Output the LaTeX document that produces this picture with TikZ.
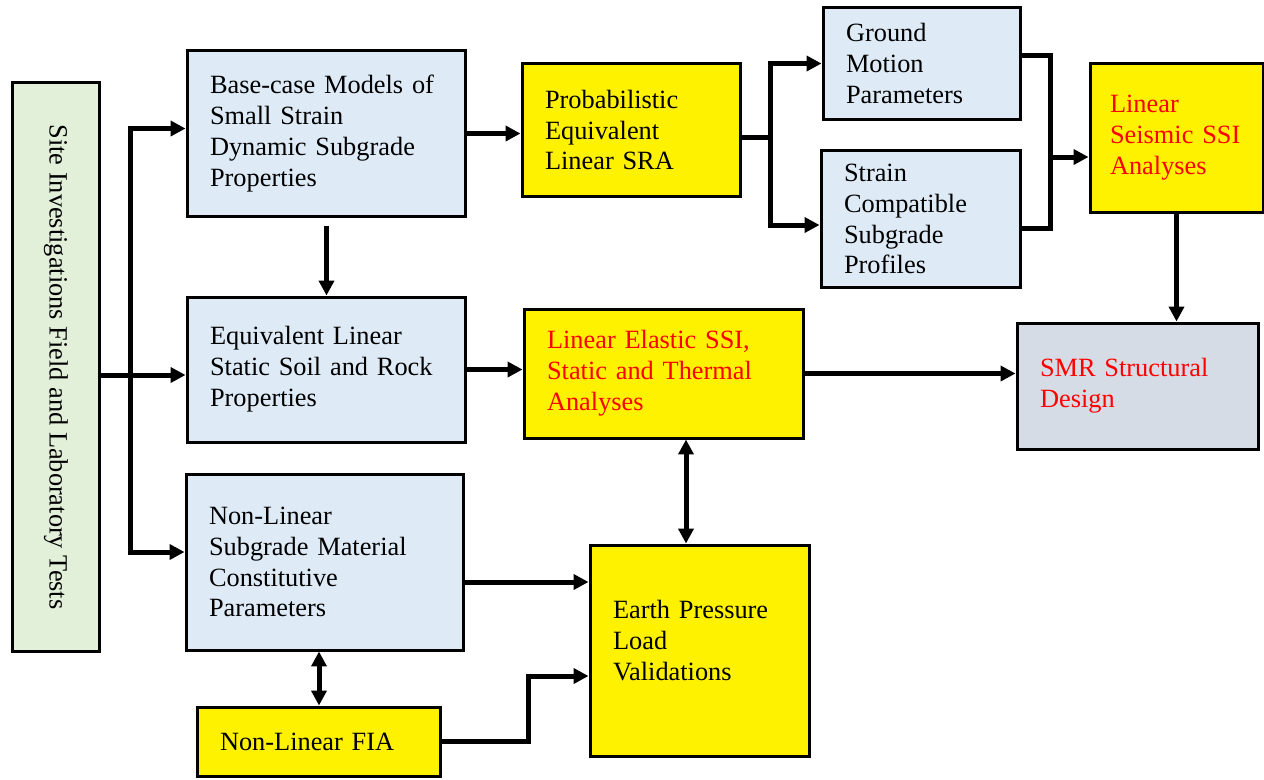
\documentclass[tikz,border=0pt]{standalone}
\usepackage{fontspec}
\setmainfont{Liberation Serif}
\usepackage{tikz}
\usetikzlibrary{arrows.meta,positioning}

\definecolor{siteGreen}{HTML}{E2EFD9}
\definecolor{boxBlue}{HTML}{DEEBF7}
\definecolor{smrGray}{HTML}{D6DCE5}

\tikzset{
  box/.style={draw, line width=0.06cm, inner xsep=0.46cm, inner ysep=0pt, align=left,
    font=\fontsize{15}{17.6}\selectfont},
  bluebox/.style={box, fill=boxBlue},
  yellowbox/.style={box, fill=yellow},
  arr/.style={line width=0.1cm, -{Triangle[length=0.3cm,width=0.3cm]}},
  dblarr/.style={line width=0.1cm, {Triangle[length=0.3cm,width=0.3cm]}-{Triangle[length=0.3cm,width=0.3cm]}},
  link/.style={line width=0.1cm},
}

\begin{document}
\begin{tikzpicture}[x=0.02cm,y=-0.02cm]
		\useasboundingbox (0,0) rectangle (1264,779);

		% rotated: site.north is its right edge
		\node[box, fill=siteGreen, rotate=-90, align=center, inner xsep=0pt,
			minimum width=11.4cm, minimum height=1.76cm] (site) at (56,367)
			{Site Investigations Field and Laboratory Tests};

		\node[bluebox, text width=4.66cm, minimum height=3.34cm] (base) at (326.5,133.5)
			{Base-case Models of\\Small Strain\\Dynamic Subgrade\\Properties};
		\node[yellowbox, text width=3.46cm, minimum height=2.68cm] (prob) at (631.5,130)
			{Probabilistic\\Equivalent\\Linear SRA};
		\node[bluebox, text width=3.04cm, minimum height=2.26cm] (ground) at (922,63.5)
			{Ground\\Motion\\Parameters};
		\node[bluebox, text width=3.08cm, minimum height=2.76cm] (strain) at (921,219)
			{Strain\\Compatible\\Subgrade\\Profiles};
		\node[yellowbox, text=red, inner xsep=0.4cm, text width=2.66cm, minimum height=3cm] (seismic) at (1176.5,138)
			{Linear\\Seismic SSI\\Analyses};

		\node[bluebox, text width=4.66cm, minimum height=2.9cm] (equiv) at (326.5,369.5)
			{Equivalent Linear\\Static Soil and Rock\\Properties};
		\node[yellowbox, text=red, text width=4.68cm, minimum height=2.58cm] (elastic) at (664,373.5)
			{Linear Elastic SSI,\\Static and Thermal\\Analyses};
		\node[box, fill=smrGray, text=red, text width=3.92cm, minimum height=2.52cm] (smr) at (1138,386)
			{SMR Structural\\Design};

		\node[bluebox, text width=4.64cm, minimum height=3.52cm] (nonlin) at (325,562)
			{Non-Linear\\Subgrade Material\\Constitutive\\Parameters};
		\node[yellowbox, text width=3.48cm, minimum height=4.24cm, text depth=1.67cm] (earth) at (700,651)
			{Earth Pressure\\Load\\Validations};
		\node[yellowbox, text width=3.96cm, minimum height=1.38cm] (fia) at (319,741.5)
			{Non-Linear FIA};

		% left feed
		\coordinate (trunk) at (130,375);
		\draw[arr] (site.north |- trunk) -- (trunk -| equiv.west);
		\draw[arr] (trunk) |- ([yshift=0.1cm]base.west);
		\draw[arr] (trunk) |- ([yshift=0.2cm]nonlin.west);

		% top row
		\draw[arr] (base.east) -- (prob.west |- base.east);
		\draw[arr] ([yshift=-0.15cm]base.south) -- (equiv.north);
		\coordinate (split) at (770,137);
		\draw[link] (prob.east |- split) -- (split);
		\draw[arr] (split) |- (ground.west);
		\draw[arr] (split) |- ([yshift=-0.12cm]strain.west);
		\coordinate (merge) at (1050,157);
		\draw[link] ([yshift=0.17cm]ground.east) -| (merge) |- ([yshift=-0.18cm]strain.east);
		\draw[arr] (merge) -- (merge -| seismic.west);
		\draw[arr] (seismic.south) -- (seismic.south |- smr.north);

		% middle row
		\draw[arr] (equiv.east) -- (elastic.west |- equiv.east);
		\draw[arr] (elastic.east) -- (smr.west |- elastic.east);
		\coordinate (tie) at (686,490);
		\draw[dblarr] (tie |- elastic.south) -- (tie |- earth.north);

		% bottom row
		\coordinate (nl) at ([yshift=-0.4cm]nonlin.east);
		\draw[arr] (nl) -- (nl -| earth.west);
		\draw[dblarr] (fia.north) -- (fia.north |- nonlin.south);
		\coordinate (kink) at (528,676);
		\draw[arr] (fia.east) -| (kink) -- (kink -| earth.west);
	\end{tikzpicture}
\end{document}
